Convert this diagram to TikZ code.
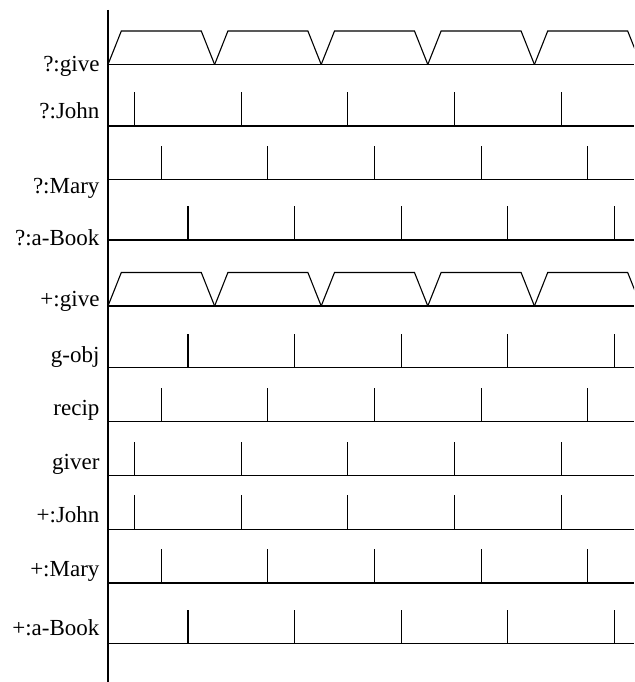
\documentclass[tikz,border=0pt]{standalone}
\usepackage{fontspec}
\setmainfont{Liberation Serif}
\begin{document}
\begin{tikzpicture}[x=1pt,y=-1pt,line width=1.1pt,
  lab/.style={anchor=base east,inner sep=0pt,font=\fontsize{23}{27}\selectfont}]
\useasboundingbox (0,0) rectangle (634,682);
\def\xo{108}
\def\per{106.6}
\def\qq{26.65}
\coordinate (axtop) at (\xo,10);
\coordinate (axbot) at (\xo,682);
\draw (axtop) -- (axbot);
\begin{scope}
\clip (\xo-1,0) rectangle (634,682);
% trapezoid rows
\foreach \b in {64.5,306}{
  \draw (\xo,\b) -- (634,\b);
  \foreach \k in {0,...,4}{
    \draw[line join=miter] (\xo+\k*\per,\b) -- ++(\qq/2,-33.5) -- ++(3*\qq,0) -- ++(\qq/2,33.5);
  }
}
% spike rows
\foreach \b/\m in {126/1,179.5/2,240/3,367.5/3,421.7/2,475.5/1,529.3/1,583/2,643.5/3}{
  \draw (\xo,\b) -- (634,\b);
  \foreach \k in {0,...,4}{
    \draw (\xo+\m*\qq+\k*\per,\b) -- ++(0,-34);
  }
}
\end{scope}
% labels
\node[lab] (l1) at (100,71.7) {?:give};
\node[lab] (l2) at (100,119) {?:John};
\node[lab] (l3) at (100,193.3) {?:Mary};
\node[lab] (l4) at (100,245) {?:a-Book};
\node[lab] (l5) at (100,306.7) {+:give};
\node[lab] (l6) at (100,362.3) {g-obj};
\node[lab] (l7) at (100,415) {recip};
\node[lab] (l8) at (100,469.3) {giver};
\node[lab] (l9) at (100,522.3) {+:John};
\node[lab] (l10) at (100,576) {+:Mary};
\node[lab] (l11) at (100,635.7) {+:a-Book};
\end{tikzpicture}
\end{document}
